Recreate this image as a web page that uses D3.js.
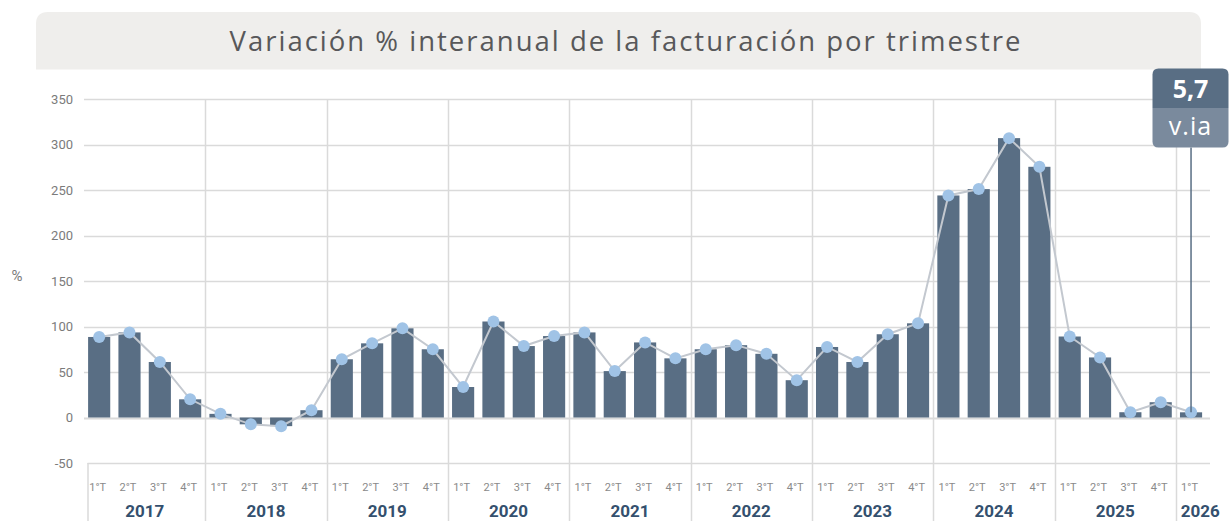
<!DOCTYPE html>
<html>
<head>
<meta charset="utf-8">
<script src="https://cdn.jsdelivr.net/npm/d3@7"></script>
<style>
  html, body { margin: 0; padding: 0; background: #fff; }
  svg { display: block; }
</style>
</head>
<body>
<div id="chart"></div>
<script>
// data
const titleText = 'Variación % interanual de la facturación por trimestre';
const years = ['2017', '2018', '2019', '2020', '2021', '2022', '2023', '2024', '2025', '2026'];
const quarterNames = ['1°T', '2°T', '3°T', '4°T'];
const quartersPerYear = [4, 4, 4, 4, 4, 4, 4, 4, 4, 1];
const values = [
    88.5, 93.5, 61, 20,
    4, -7.5, -9.5, 8,
    64, 81.5, 98, 75,
    33.5, 105.5, 78.5, 89.5,
    93.5, 51, 82.5, 65,
    75, 79.5, 70, 41,
    77.5, 61, 91.5, 103.5,
    244, 251, 307, 275.5,
    89, 66, 5.8, 16.8,
    5.7
];
const yTicks = [-50, 0, 50, 100, 150, 200, 250, 300, 350];
const lastLabel = '5,7';
const lastSub = 'v.ia';

const width = 1231;
const height = 521;

// build the quarter rows from the arrays above
const rows = [];
years.forEach((yr, yi) => {
    for (let q = 0; q < quartersPerYear[yi]; q++) {
        rows.push({ year: yr, quarter: quarterNames[q], value: values[rows.length] });
    }
});

const svg = d3.select('#chart').append('svg')
    .attr('width', width)
    .attr('height', height)
    .style('font-family', 'Roboto, "Liberation Sans", Arial, sans-serif');

// title band
const tb = { x: 36, y: 12, w: 1165, h: 57.5, r: 12 };
svg.append('path')
    .attr('d', `M${tb.x},${tb.y + tb.h} V${tb.y + tb.r} Q${tb.x},${tb.y} ${tb.x + tb.r},${tb.y}
        H${tb.x + tb.w - tb.r} Q${tb.x + tb.w},${tb.y} ${tb.x + tb.w},${tb.y + tb.r} V${tb.y + tb.h} Z`)
    .attr('fill', '#efeeec');
svg.append('text')
    .attr('x', 626)
    .attr('y', 51)
    .attr('text-anchor', 'middle')
    .attr('fill', '#58585a')
    .style('font-family', '"Open Sans", Lato, sans-serif')
    .style('font-size', '27.5px')
    .style('letter-spacing', '2px')
    .text(titleText);

const x = d3.scaleBand()
    .domain(d3.range(rows.length))
    .range([84, 1206.2])
    .paddingInner(0.27)
    .paddingOuter(0.135);

const y = d3.scaleLinear()
    .domain([-50, 350])
    .range([463, 99]);

const gridRight = 1210;

// horizontal grid
svg.append('g')
    .selectAll('line')
    .data(yTicks)
    .join('line')
    .attr('x1', d => (d === -50 ? 87.5 : 84))
    .attr('x2', gridRight)
    .attr('y1', d => Math.round(y(d)) + 0.5)
    .attr('y2', d => Math.round(y(d)) + 0.5)
    .attr('stroke', '#dadada')
    .attr('stroke-width', d => (d === 0 ? 2 : 1.3));

// y tick labels
svg.append('g')
    .selectAll('text')
    .data(yTicks)
    .join('text')
    .attr('x', 73)
    .attr('y', d => y(d) + 4.5)
    .attr('text-anchor', 'end')
    .attr('fill', '#7b7b7b')
    .style('font-size', '13px')
    .text(d => d);

svg.append('text')
    .attr('x', 17)
    .attr('y', 281)
    .attr('text-anchor', 'middle')
    .attr('fill', '#7b7b7b')
    .style('font-size', '15px')
    .text('%');

// year separators
let start = 0;
const yearSpans = years.map((yr, yi) => {
    const span = { year: yr, from: start, to: start + quartersPerYear[yi] };
    start += quartersPerYear[yi];
    return span;
});
const step = x.step();
const x0 = x.range()[0];

svg.append('g')
    .selectAll('line')
    .data(yearSpans.slice(1))
    .join('line')
    .attr('x1', d => Math.round(x0 + d.from * step) + 0.5)
    .attr('x2', d => Math.round(x0 + d.from * step) + 0.5)
    .attr('y1', y(350))
    .attr('y2', height)
    .attr('stroke', '#dadada')
    .attr('stroke-width', 1.5);

svg.append('line')
    .attr('x1', 88).attr('x2', 88)
    .attr('y1', y(-50)).attr('y2', height)
    .attr('stroke', '#dadada')
    .attr('stroke-width', 1.5);

// bars
svg.append('g')
    .selectAll('rect')
    .data(rows)
    .join('rect')
    .attr('x', (d, i) => x(i))
    .attr('width', x.bandwidth())
    .attr('y', d => y(Math.max(0, d.value)))
    .attr('height', d => Math.abs(y(d.value) - y(0)))
    .attr('fill', '#596e84');

// line + dots
const line = d3.line()
    .x((d, i) => x(i) + x.bandwidth() / 2)
    .y(d => y(d.value));

svg.append('path')
    .datum(rows)
    .attr('d', line)
    .attr('fill', 'none')
    .attr('stroke', '#c3c8cf')
    .attr('stroke-width', 2);

svg.append('g')
    .selectAll('circle')
    .data(rows)
    .join('circle')
    .attr('cx', (d, i) => x(i) + x.bandwidth() / 2)
    .attr('cy', d => y(d.value))
    .attr('r', 6)
    .attr('fill', '#a0c3e6');

// quarter labels
svg.append('g')
    .selectAll('text')
    .data(rows)
    .join('text')
    .attr('x', (d, i) => x(i) + x.bandwidth() / 2 - 1.5)
    .attr('y', 491)
    .attr('text-anchor', 'middle')
    .attr('fill', '#8a8a8a')
    .style('font-size', '11px')
    .text(d => d.quarter);

// year labels
svg.append('g')
    .selectAll('text')
    .data(yearSpans)
    .join('text')
    .attr('x', (d, i) => (i === yearSpans.length - 1
        ? x0 + d.from * step + 5
        : x0 + (d.from + d.to) / 2 * step))
    .attr('y', 517)
    .attr('text-anchor', (d, i) => (i === yearSpans.length - 1 ? 'start' : 'middle'))
    .attr('fill', '#34506e')
    .style('font-size', '17px')
    .style('font-weight', 'bold')
    .text(d => d.year);

// last value callout
const lastIdx = rows.length - 1;
const lx = x(lastIdx) + x.bandwidth() / 2;
const box = { x: 1152.5, y: 68.5, w: 76, h: 79, r: 6 };
svg.append('line')
    .attr('x1', lx).attr('x2', lx)
    .attr('y1', box.y + box.h)
    .attr('y2', y(rows[lastIdx].value))
    .attr('stroke', '#596e84')
    .attr('stroke-width', 1.5);

const half = box.h / 2;
svg.append('path')
    .attr('d', `M${box.x},${box.y + half} V${box.y + box.r} Q${box.x},${box.y} ${box.x + box.r},${box.y}
        H${box.x + box.w - box.r} Q${box.x + box.w},${box.y} ${box.x + box.w},${box.y + box.r} V${box.y + half} Z`)
    .attr('fill', '#596e84');
svg.append('path')
    .attr('d', `M${box.x},${box.y + half} V${box.y + box.h - box.r} Q${box.x},${box.y + box.h} ${box.x + box.r},${box.y + box.h}
        H${box.x + box.w - box.r} Q${box.x + box.w},${box.y + box.h} ${box.x + box.w},${box.y + box.h - box.r} V${box.y + half} Z`)
    .attr('fill', '#7a8a9d');

svg.append('text')
    .attr('x', box.x + box.w / 2)
    .attr('y', box.y + 29)
    .attr('text-anchor', 'middle')
    .attr('fill', '#fff')
    .style('font-family', '"Open Sans", Lato, sans-serif')
    .style('font-size', '25px')
    .style('font-weight', 'bold')
    .text(lastLabel);
svg.append('text')
    .attr('x', box.x + box.w / 2)
    .attr('y', box.y + half + 27)
    .attr('text-anchor', 'middle')
    .attr('fill', '#fff')
    .style('font-family', '"Open Sans", Lato, sans-serif')
    .style('font-size', '25px')
    .style('letter-spacing', '1px')
    .text(lastSub);
</script>
</body>
</html>
